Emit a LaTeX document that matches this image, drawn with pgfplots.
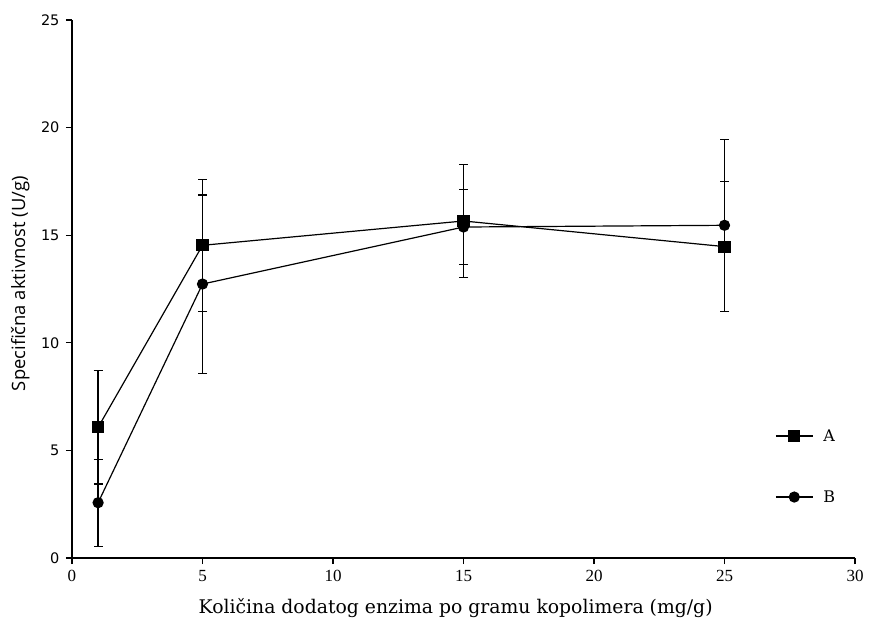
\documentclass[border=0pt]{standalone}
\usepackage{fontspec}
\setmainfont{DejaVu Serif}
\newfontfamily\ylabfont{Open Sans}
\newfontfamily\ytickfont{DejaVu Sans}
\newfontfamily\xtickfont{Liberation Serif}
\usepackage{pgfplots}
\pgfplotsset{compat=1.18}
\begin{document}
\begin{tikzpicture}
\useasboundingbox (-72pt,-68pt) rectangle (797pt,558pt);
\begin{axis}[
  at={(0pt,0pt)}, anchor=south west,
  scale only axis,
  width=783pt, height=538pt,
  xmin=0, xmax=30, ymin=0, ymax=25,
  xtick={0,5,...,30}, ytick={0,5,...,25},
  axis x line=bottom, axis y line=left,
  axis line style={-, line width=1.1pt},
  tick style={line width=1.1pt, black},
  tick align=outside,
  major tick length=6pt,
  minor tick num=0,
  /pgf/number format/assume math mode=true,
  xticklabel style={font=\xtickfont\fontsize{17}{20}\selectfont, yshift=-3pt},
  yticklabel style={font=\ytickfont\fontsize{14.5}{17}\selectfont, xshift=-3pt},
  xlabel={Količina dodatog enzima po gramu kopolimera (mg/g)},
  ylabel={Specifična aktivnost (U/g)},
  xlabel style={font=\fontsize{18.8}{22}\selectfont, at={(axis description cs:0.49,-0.0929)}, anchor=center},
  ylabel style={font=\ylabfont\fontsize{18.4}{21}\selectfont, at={(axis description cs:-0.066,0.51)}, anchor=center, rotate=0},
  legend style={draw=none, fill=none, at={(axis description cs:0.8978,0.170)}, anchor=west,
    inner sep=0pt, row sep=41pt, column sep=10pt,
    nodes={inner sep=0pt, minimum height=20pt, font=\fontsize{16}{19}\selectfont}},
  legend cell align=left,
  legend image code/.code={\draw[mark repeat=2,mark phase=2] plot coordinates {(0pt,0pt)(18.5pt,0pt)(37pt,0pt)};},
  error bars/y dir=both, error bars/y explicit,
  error bars/error mark options={rotate=90, mark size=4.5pt, line width=1.2pt},
  error bars/error bar style={line width=1.2pt},
]
\addplot[black, line width=1.2pt, mark=square*, mark size=5.5pt, mark options={solid}]
  coordinates {
    (1,6.07) +- (0,2.63)
    (5,14.53) +- (0,3.06)
    (15,15.66) +- (0,2.62)
    (25,14.47) +- (0,3.03)
  };
\addlegendentry{A}
\addplot[black, line width=1.2pt, mark=*, mark size=5pt, mark options={solid}]
  coordinates {
    (1,2.57) +- (0,2.02)
    (5,12.73) +- (0,4.14)
    (15,15.38) +- (0,1.75)
    (25,15.46) +- (0,3.99)
  };
\addlegendentry{B}
\end{axis}
\end{tikzpicture}
\end{document}
